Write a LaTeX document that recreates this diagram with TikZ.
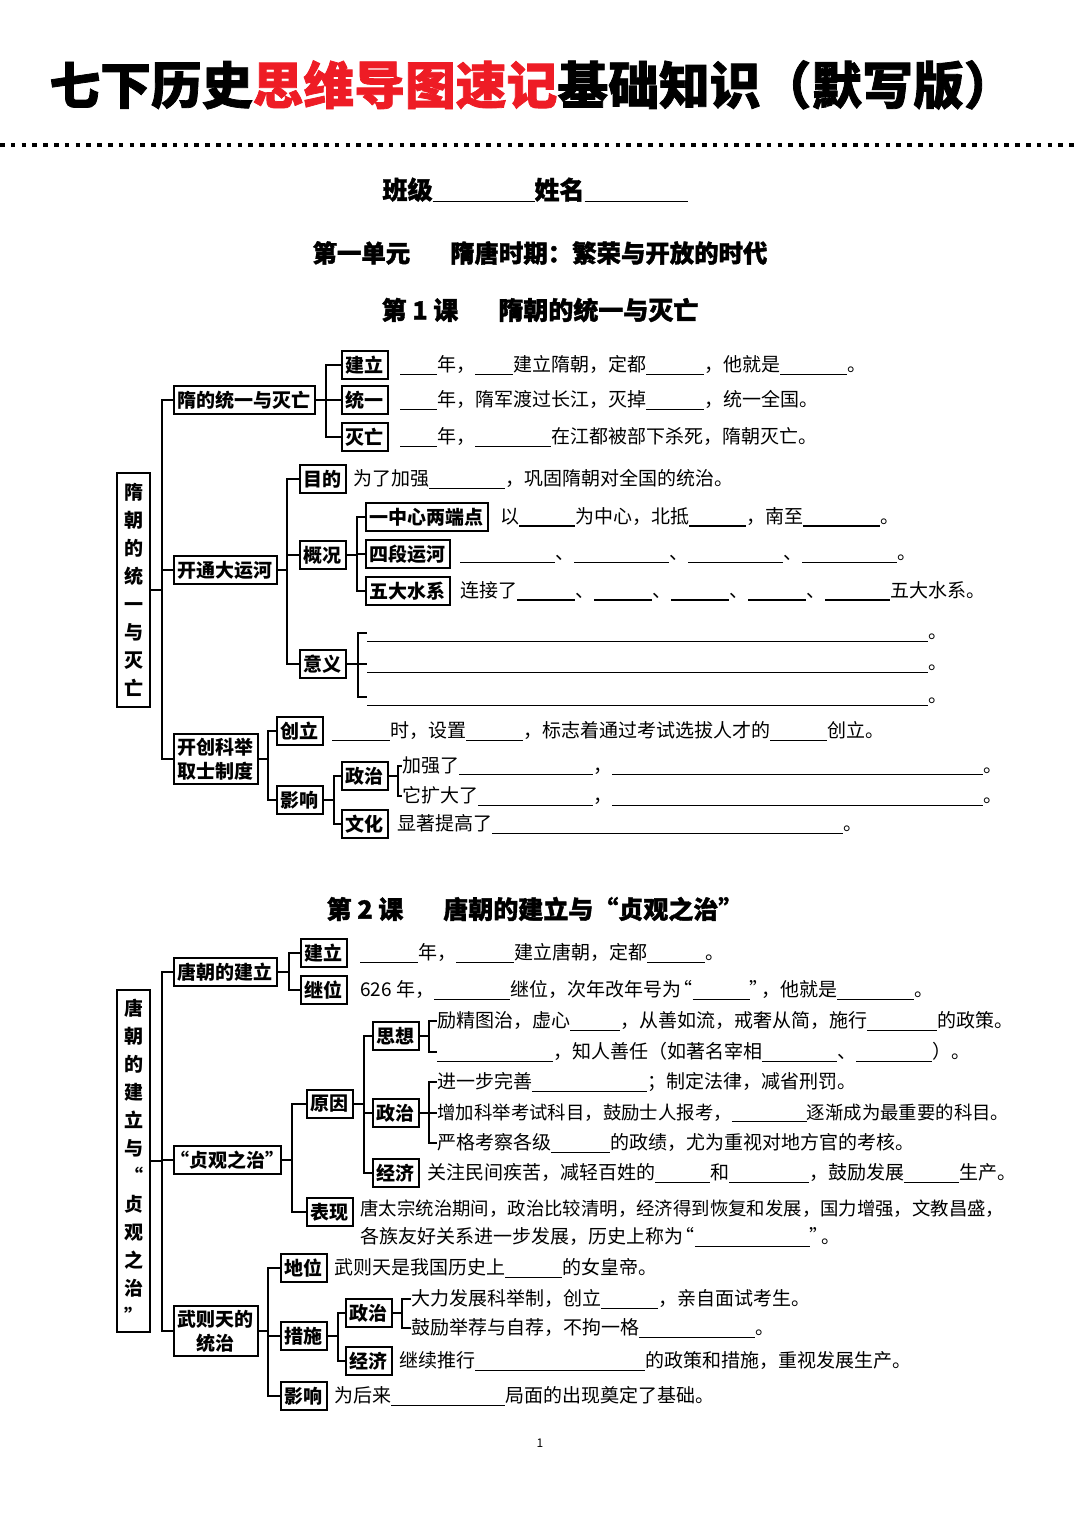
\documentclass[tikz,border=0pt]{standalone}
\usepackage{fontspec}
\setmainfont{Noto Sans CJK SC}
\newfontfamily\heavyfont{Noto Sans CJK SC}[BoldFeatures={FakeBold=1.5}]
\usepackage{xcolor}
\usetikzlibrary{positioning}
\definecolor{titlered}{RGB}{238,28,37}
\newlength\pxu
\setlength\pxu{0.5pt}
\newcommand\bl[1]{\rule[-1.6pt]{#1\pxu}{0.55pt}}
\newcommand\openq{\makebox[0.6em][r]{“}}
\newcommand\closeq{\makebox[0.6em][l]{”}}

\begin{document}
\begin{tikzpicture}[x=0.5pt, y=-0.5pt,
    kbox/.style={draw, line width=0.9pt, anchor=west, inner xsep=2pt, inner ysep=0pt, minimum height=14pt, font=\fontsize{9.5}{12}\selectfont\bfseries},
    rootbox/.style={draw, line width=0.9pt, inner sep=0pt, minimum width=16.5pt, align=center, font=\fontsize{9.5}{14}\selectfont\bfseries},
    tx/.style={anchor=west, inner sep=0pt, font=\fontsize{9.5}{12}\selectfont, execute at begin node={\vphantom{国}}},
    head/.style={inner sep=0pt, font=\fontsize{12.5}{14}\selectfont\heavyfont\bfseries},
    link/.style={line width=0.9pt},
    dotline/.style={line width=2.3pt, dash pattern=on 2.3pt off 3.1pt}]
  \useasboundingbox (0,0) rectangle (1080,1527);

  % page head
  \node[inner sep=0pt, font=\fontsize{25.4}{28}\selectfont\heavyfont\bfseries] (title) at (532,85) {七下历史\textcolor{titlered}{思维导图速记}基础知识（默写版）};
  \draw[dotline] (0,145) -- (1080,145);
  \node[head] (name) at (535,190) {班级\bl{102}姓名\bl{103}};
  \node[head, font=\fontsize{12.2}{14}\selectfont\heavyfont\bfseries] (unit) at (540,253) {第一单元\hspace{20pt}隋唐时期：繁荣与开放的时代};
  \node[head] (lesson1) at (540,310) {第 1 课\hspace{20pt}隋朝的统一与灭亡};

  % lesson 1
  \node[rootbox, minimum height=117pt] (suiroot) at (133.5,590) {隋\\朝\\的\\统\\一\\与\\灭\\亡};
  \node[kbox] (suitong) at (173,400) {隋的统一与灭亡};
  \node[kbox] (yunhe) at (173,570) {开通大运河};
  \node[kbox, align=center, inner ysep=2pt] (keju) at (173,759) {开创科举\\取士制度};

  \node[kbox] (jianli1) at (341,365) {建立};
  \node[tx] (jianli1t) at (400,365) {\bl{37}年，\bl{38}建立隋朝，定都\bl{58}，他就是\bl{67}。};
  \node[kbox] (tongyi) at (341,400) {统一};
  \node[tx] (tongyit) at (400,400) {\bl{37}年，隋军渡过长江，灭掉\bl{58}，统一全国。};
  \node[kbox] (miewang) at (341,437) {灭亡};
  \node[tx] (miewangt) at (400,437) {\bl{37}年，\bl{76}在江都被部下杀死，隋朝灭亡。};

  \node[kbox] (mudi) at (299,479) {目的};
  \node[tx] (mudit) at (353,479) {为了加强\bl{76}，巩固隋朝对全国的统治。};
  \node[kbox] (gaikuang) at (299,555) {概况};
  \node[kbox] (zhongxin) at (365,517) {一中心两端点};
  \node[tx] (zhongxint) at (500,517) {以\bl{56}为中心，北抵\bl{57}，南至\bl{77}。};
  \node[kbox] (siduan) at (365,554) {四段运河};
  \node[tx] (siduant) at (460,554) {\bl{95}、\bl{95}、\bl{95}、\bl{95}。};
  \node[kbox] (wuda) at (365,591) {五大水系};
  \node[tx] (wudat) at (460,591) {连接了\bl{58}、\bl{58}、\bl{58}、\bl{58}、\bl{65}五大水系。};
  \node[kbox] (yiyi) at (299,664) {意义};
  \node[tx] (yiyia) at (367,633) {\bl{561}。};
  \node[tx] (yiyib) at (367,664) {\bl{561}。};
  \node[tx] (yiyic) at (367,697) {\bl{561}。};

  \node[kbox] (chuangli) at (276,731) {创立};
  \node[tx] (chuanglit) at (332,731) {\bl{58}时，设置\bl{57}，标志着通过考试选拔人才的\bl{57}创立。};
  \node[kbox] (yingxiang1) at (276,800) {影响};
  \node[kbox] (zhengzhi1) at (341,776) {政治};
  \node[tx] (zza) at (402,766) {加强了\bl{134}，\bl{371}。};
  \node[tx] (zzb) at (402,796) {它扩大了\bl{115}，\bl{371}。};
  \node[kbox] (wenhua) at (341,824) {文化};
  \node[tx] (wenhuat) at (397,824) {显著提高了\bl{351}。};

  \foreach \c in {suitong,yunhe,keju} \draw[link] (suiroot.east) -- ++(11,0) |- (\c.west);
  \foreach \c in {jianli1,tongyi,miewang} \draw[link] (suitong.east) -- ++(10,0) |- (\c.west);
  \foreach \c in {mudi,gaikuang,yiyi} \draw[link] (yunhe.east) -- ++(9,0) |- (\c.west);
  \foreach \c in {zhongxin,siduan,wuda} \draw[link] (gaikuang.east) -- ++(10,0) |- (\c.west);
  \foreach \c in {yiyia,yiyib,yiyic} \draw[link] (yiyi.east) -- ++(11,0) |- (\c.west);
  \foreach \c in {chuangli,yingxiang1} \draw[link] (keju.east) -- ++(9,0) |- (\c.west);
  \foreach \c in {zhengzhi1,wenhua} \draw[link] (yingxiang1.east) -- ++(10,0) |- (\c.west);
  \foreach \c in {zza,zzb} \draw[link] (zhengzhi1.east) -- ++(9,0) |- (\c.west);

  % lesson 2
  \node[head] (lesson2) at (535,909) {第 2 课\hspace{20pt}唐朝的建立与“贞观之治”};
  \node[rootbox, minimum height=171pt] (tangroot) at (133.5,1161) {唐\\朝\\的\\建\\立\\与\\“\\贞\\观\\之\\治\\”};
  \node[kbox] (tangjian) at (173,972) {唐朝的建立};
  \node[kbox] (zhenguan) at (173,1160) {\openq 贞观之治\closeq};
  \node[kbox, align=center, inner ysep=2pt] (wuzetian) at (173,1331) {武则天的\\统治};

  \node[kbox] (jianli2) at (300,953) {建立};
  \node[tx] (jianli2t) at (360,953) {\bl{58}年，\bl{58}建立唐朝，定都\bl{58}。};
  \node[kbox] (jiwei) at (300,990) {继位};
  \node[tx] (jiweit) at (360,990) {626 年，\bl{76}继位，次年改年号为\openq\bl{57}\closeq，他就是\bl{77}。};

  \node[kbox] (yuanyin) at (306,1104) {原因};
  \node[kbox] (sixiang) at (372,1036) {思想};
  \node[tx] (sxa) at (437,1021) {励精图治，虚心\bl{50}，从善如流，戒奢从简，施行\bl{70}的政策。};
  \node[tx] (sxb) at (437,1052) {\bl{116}，知人善任（如著名宰相\bl{75}、\bl{76}）。};
  \node[kbox] (zhengzhi2) at (372,1113) {政治};
  \node[tx] (zzc) at (437,1082) {进一步完善\bl{115}；制定法律，减省刑罚。};
  \node[tx, font=\fontsize{9.2}{12}\selectfont] (zzd) at (437,1113) {增加科举考试科目，鼓励士人报考，\bl{75}逐渐成为最重要的科目。};
  \node[tx] (zze) at (437,1143) {严格考察各级\bl{59}的政绩，尤为重视对地方官的考核。};
  \node[kbox] (jingji2) at (372,1173) {经济};
  \node[tx] (jingji2t) at (427,1173) {关注民间疾苦，减轻百姓的\bl{55}和\bl{80}，鼓励发展\bl{55}生产。};
  \node[kbox] (biaoxian) at (306,1212) {表现};
  \node[tx, font=\fontsize{9.2}{12}\selectfont] (bxa) at (360,1209) {唐太宗统治期间，政治比较清明，经济得到恢复和发展，国力增强，文教昌盛，};
  \node[tx] (bxb) at (360,1237) {各族友好关系进一步发展，历史上称为\openq\bl{115}\closeq。};

  \node[kbox] (diwei) at (280,1268) {地位};
  \node[tx] (diweit) at (334,1268) {武则天是我国历史上\bl{57}的女皇帝。};
  \node[kbox] (cuoshi) at (280,1336) {措施};
  \node[kbox] (zhengzhi3) at (345,1313) {政治};
  \node[tx] (zzf) at (411,1299) {大力发展科举制，创立\bl{57}，亲自面试考生。};
  \node[tx] (zzg) at (411,1328) {鼓励举荐与自荐，不拘一格\bl{116}。};
  \node[kbox] (jingji3) at (345,1361) {经济};
  \node[tx] (jingji3t) at (399,1361) {继续推行\bl{170}的政策和措施，重视发展生产。};
  \node[kbox] (yingxiang2) at (280,1396) {影响};
  \node[tx] (yingxiang2t) at (334,1396) {为后来\bl{114}局面的出现奠定了基础。};

  \foreach \c in {tangjian,zhenguan,wuzetian} \draw[link] (tangroot.east) -- ++(11,0) |- (\c.west);
  \foreach \c in {jianli2,jiwei} \draw[link] (tangjian.east) -- ++(11,0) |- (\c.west);
  \foreach \c in {yuanyin,biaoxian} \draw[link] (zhenguan.east) -- ++(10,0) |- (\c.west);
  \foreach \c in {sixiang,zhengzhi2,jingji2} \draw[link] (yuanyin.east) -- ++(10,0) |- (\c.west);
  \foreach \c in {sxa,sxb} \draw[link] (sixiang.east) -- ++(9,0) |- (\c.west);
  \foreach \c in {zzc,zzd,zze} \draw[link] (zhengzhi2.east) -- ++(9,0) |- (\c.west);
  \foreach \c in {diwei,cuoshi,yingxiang2} \draw[link] (wuzetian.east) -- ++(9,0) |- (\c.west);
  \foreach \c in {zhengzhi3,jingji3} \draw[link] (cuoshi.east) -- ++(10,0) |- (\c.west);
  \foreach \c in {zzf,zzg} \draw[link] (zhengzhi3.east) -- ++(9,0) |- (\c.west);

  \node[font=\fontsize{6}{7}\selectfont] (pagenum) at (540,1443) {1};
\end{tikzpicture}
\end{document}
